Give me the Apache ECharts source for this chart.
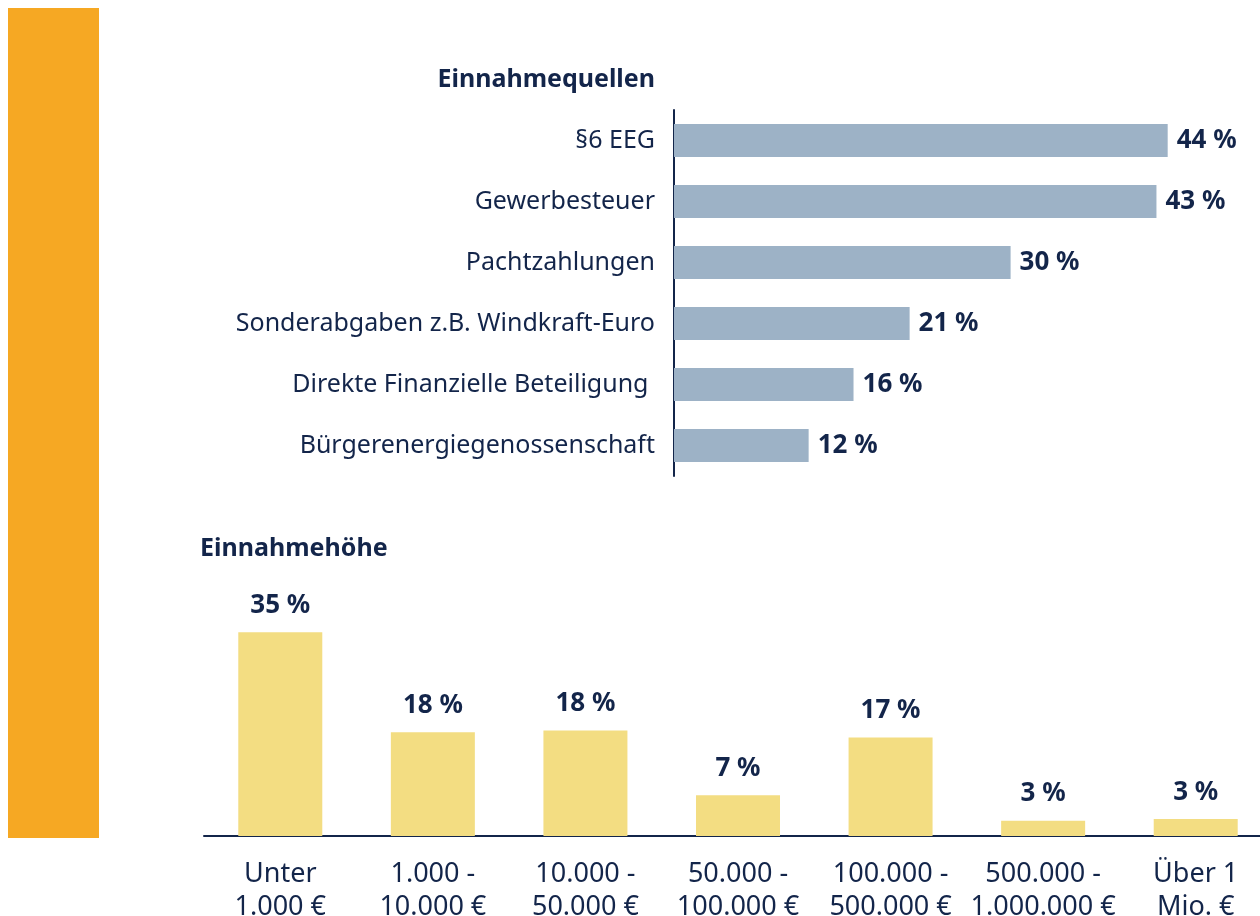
<!DOCTYPE html>
<html lang="de">
<head>
    <meta charset="UTF-8"/>
    <title>Einnahmen</title>
    <script src="https://cdn.jsdelivr.net/npm/echarts@6/dist/echarts.min.js"></script>
    <style>
        html, body { margin: 0; padding: 0; background: #fff; }
    </style>
</head>
<body>
<div id="main" style="width: 1260px;height:916px;"></div>

<script type="text/javascript">
    // Einnahmequellen (horizontal)
    var quellen = ['§6 EEG', 'Gewerbesteuer', 'Pachtzahlungen', 'Sonderabgaben z.B. Windkraft-Euro',
        'Direkte Finanzielle Beteiligung ', 'Bürgerenergiegenossenschaft'];
    var quellenWerte = [44, 43, 30, 21, 16, 12];

    // Einnahmehöhe (vertikal)
    var hoehen = ['Unter\n1.000 €', '1.000 -\n10.000 €', '10.000 -\n50.000 €', '50.000 -\n100.000 €',
        '100.000 -\n500.000 €', '500.000 -\n1.000.000 €', 'Über 1\nMio. €'];
    var hoehenWerte = [35, 17.8, 18.1, 7, 16.9, 2.6, 2.9];

    var navy = '#13254a';
    var font = 'Noto Sans';

    var myChart = echarts.init(document.getElementById('main'));
    var option = {
        backgroundColor: '#fff',
        animation: false,
        textStyle: { fontFamily: font, color: navy },
        title: [
            {
                text: 'Einnahmequellen',
                right: 605,
                top: 67,
                padding: 0,
                textStyle: { fontSize: 25, fontWeight: 'bold', color: navy, fontFamily: font }
            },
            {
                text: 'Einnahmehöhe',
                left: 200,
                top: 536,
                padding: 0,
                textStyle: { fontSize: 25, fontWeight: 'bold', color: navy, fontFamily: font }
            }
        ],
        graphic: [
            {
                type: 'rect',
                shape: { x: 8, y: 8, width: 91, height: 830 },
                style: { fill: '#f6a823' }
            }
        ],
        grid: [
            { left: 674, top: 110, width: 561, height: 366, outerBoundsMode: 'none' },
            { left: 204, top: 603, width: 1068, height: 233, outerBoundsMode: 'none' }
        ],
        xAxis: [
            {
                gridIndex: 0,
                type: 'value',
                min: 0,
                max: 50,
                show: false
            },
            {
                gridIndex: 1,
                type: 'category',
                data: hoehen,
                axisLine: { lineStyle: { color: navy, width: 2 } },
                axisTick: { show: false },
                axisLabel: {
                    interval: 0,
                    margin: 22,
                    fontSize: 27,
                    lineHeight: 33,
                    color: navy,
                    fontFamily: font
                }
            }
        ],
        yAxis: [
            {
                gridIndex: 0,
                type: 'category',
                data: quellen,
                inverse: true,
                axisLine: { lineStyle: { color: navy, width: 2 } },
                axisTick: { show: false },
                axisLabel: {
                    margin: 19,
                    fontSize: 25,
                    color: navy,
                    fontFamily: font
                }
            },
            {
                gridIndex: 1,
                type: 'value',
                min: 0,
                max: 40,
                show: false
            }
        ],
        series: [
            {
                type: 'bar',
                xAxisIndex: 0,
                yAxisIndex: 0,
                data: quellenWerte,
                barWidth: 33,
                itemStyle: { color: '#9db2c6' },
                label: {
                    show: true,
                    position: 'right',
                    distance: 9,
                    fontSize: 26,
                    fontWeight: 'bold',
                    color: navy,
                    fontFamily: font,
                    formatter: function (p) { return Math.round(p.value) + ' %'; }
                }
            },
            {
                type: 'bar',
                xAxisIndex: 1,
                yAxisIndex: 1,
                data: hoehenWerte,
                barWidth: 84,
                itemStyle: { color: '#f3dd82' },
                label: {
                    show: true,
                    position: 'top',
                    distance: 14,
                    fontSize: 26,
                    fontWeight: 'bold',
                    color: navy,
                    fontFamily: font,
                    formatter: function (p) { return Math.round(p.value) + ' %'; }
                }
            }
        ]
    };
    myChart.setOption(option);
</script>
</body>
</html>
